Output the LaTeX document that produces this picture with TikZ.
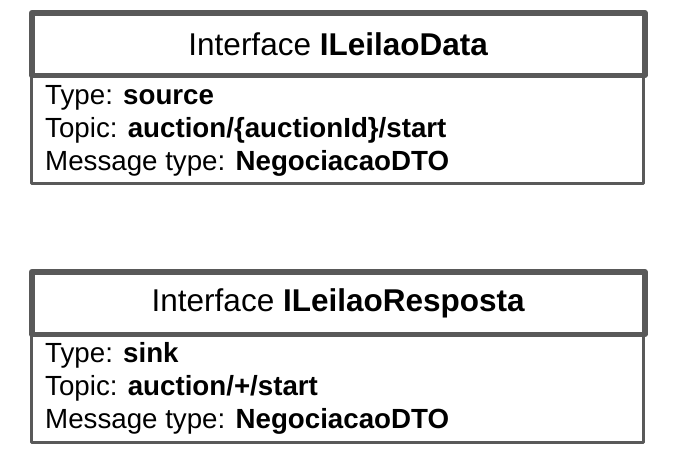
\documentclass[tikz,border=0pt]{standalone}
\usepackage{fontspec}
\setmainfont{Liberation Sans}
\definecolor{frame}{HTML}{595959}
\begin{document}
\begin{tikzpicture}[x=1pt,y=-1pt,
  hdrbox/.style={draw=frame,line width=5.5pt,line join=round,fill=white,
    minimum width=613pt,minimum height=62.5pt,inner sep=0pt,anchor=north west,
    font=\fontsize{31.5}{37}\selectfont},
  bodybox/.style={draw=frame,line width=3pt,line join=round,fill=white,
    minimum width=612.5pt,minimum height=109.5pt,inner sep=0pt,anchor=north west},
  entry/.style={anchor=base west,inner sep=0pt,font=\fontsize{27.7}{33}\selectfont}]
\useasboundingbox (0,0) rectangle (677,455);
% first interface
\node[bodybox] (b1) at (29.5,72.5) {};
\node[hdrbox] (h1) at (29,10) {Interface \textbf{ILeilaoData}};
\node[entry] (t1) at (45,104) {Type: \textbf{source}};
\node[entry] (p1) at (45,137) {Topic: \textbf{auction/\{auctionId\}/start}};
\node[entry] (m1) at (45,170) {Message type: \textbf{NegociacaoDTO}};
% second interface
\node[bodybox] (b2) at (29.5,331) {};
\node[hdrbox] (h2) at (29,269) {Interface \textbf{ILeilaoResposta}};
\node[entry] (t2) at (45,362) {Type: \textbf{sink}};
\node[entry] (p2) at (45,395) {Topic: \textbf{auction/+/start}};
\node[entry] (m2) at (45,428) {Message type: \textbf{NegociacaoDTO}};
\end{tikzpicture}
\end{document}
